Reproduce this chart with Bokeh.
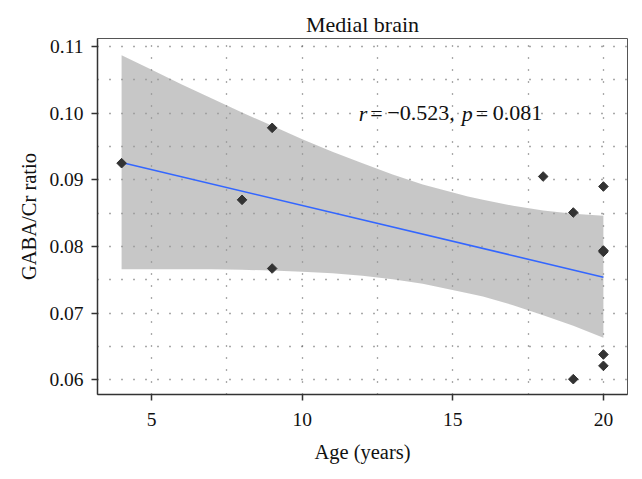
import numpy as np
from bokeh.plotting import figure
from bokeh.models import Range1d, FixedTicker, NumeralTickFormatter, ColumnDataSource
from bokeh.core.properties import value
from bokeh.embed import file_html
from bokeh.resources import INLINE

# data points
age = [4, 8, 9, 9, 18, 19, 19, 20, 20, 20, 20, 20]
ratio = [0.0925, 0.0870, 0.0978, 0.0767, 0.0905, 0.0851, 0.0601,
         0.0890, 0.0792, 0.0794, 0.0638, 0.0621]

# fitted line endpoints
fit_x = [4, 20]
fit_y = [0.0926, 0.0754]

# confidence band
band_x = [4, 5, 6, 7, 8, 9, 10, 11, 12, 13, 14, 15.5, 16, 17, 18, 19, 20]
band_upper = [0.1087, 0.1065, 0.1043, 0.1022, 0.1001, 0.0981, 0.0961, 0.0942,
              0.0925, 0.0908, 0.0893, 0.0875, 0.0870, 0.0861, 0.0854, 0.0849, 0.0846]
band_lower = [0.0766, 0.0766, 0.0766, 0.0766, 0.0765, 0.0764, 0.0762, 0.0760,
              0.0756, 0.0751, 0.0744, 0.0730, 0.0725, 0.0712, 0.0697, 0.0681, 0.0663]

x_ticks = [5, 10, 15, 20]
x_grid = [5, 7.5, 10, 12.5, 15, 17.5, 20]
y_ticks = [0.06, 0.07, 0.08, 0.09, 0.10, 0.11]
y_grid = [0.06, 0.065, 0.07, 0.075, 0.08, 0.085, 0.09, 0.095, 0.10, 0.105, 0.11]

FONT = "Liberation Serif"

p = figure(width=634, height=471, output_backend="svg", toolbar_location=None,
           x_range=Range1d(3.2, 20.8), y_range=Range1d(0.0578, 0.1112),
           title="Medial brain",
           min_border_left=97, min_border_right=7, min_border_top=38, min_border_bottom=77)

p.title.text_font = FONT
p.title.text_font_size = "22px"
p.title.text_font_style = "normal"
p.title.align = "center"
p.title.text_color = "#111111"
p.title.standoff = 4

p.background_fill_color = "white"
p.border_fill_color = "white"
p.outline_line_color = "#555555"
p.outline_line_width = 1

# grids
p.xgrid.ticker = FixedTicker(ticks=x_grid)
p.ygrid.ticker = FixedTicker(ticks=y_grid)
for g in (p.xgrid, p.ygrid):
    g.grid_line_color = "#555555"
    g.grid_line_width = 1.3
    g.grid_line_dash = "1 11"

# axes
p.xaxis.ticker = FixedTicker(ticks=x_ticks)
p.yaxis.ticker = FixedTicker(ticks=y_ticks)
p.yaxis.formatter = NumeralTickFormatter(format="0.00")
for ax in (p.xaxis, p.yaxis):
    ax.axis_line_color = "#333333"
    ax.axis_line_width = 1.5
    ax.major_tick_line_color = "#333333"
    ax.major_tick_line_width = 1.5
    ax.major_tick_out = 6
    ax.major_tick_in = 0
    ax.minor_tick_line_color = None
    ax.major_label_text_font = FONT
    ax.major_label_text_font_size = "19.5px"
    ax.major_label_text_color = "#111111"
    ax.axis_label_text_font = FONT
    ax.axis_label_text_font_size = "20.5px"
    ax.axis_label_text_font_style = "normal"
    ax.axis_label_text_color = "#111111"
p.xaxis.axis_label = "Age (years)"
p.yaxis.axis_label = "GABA/Cr ratio"
p.xaxis.major_label_standoff = 12
p.yaxis.major_label_standoff = 8
p.xaxis.axis_label_standoff = 12
p.yaxis.axis_label_standoff = 6

# band
p.varea(x=band_x, y1=band_lower, y2=band_upper, fill_color="#999999", fill_alpha=0.55)

# fit line
p.line(fit_x, fit_y, line_color="#3366FF", line_width=1.6)

# points
p.scatter(age, ratio, marker="square", angle=np.pi / 4, size=6.8,
          fill_color="#333333", line_color="#333333")

# annotation pieces (left edges relative to x = 15)
ann_italic = ColumnDataSource(dict(x=[15, 15], y=[0.1, 0.1], t=["r", "p"], dx=[-94.0, 9.0]))
ann_norm = ColumnDataSource(dict(x=[15, 15, 15, 15], y=[0.1] * 4,
                                 t=["=", "\u22120.523,", "=", "0.081"],
                                 dx=[-82.5, -65.5, 23.0, 40.0]))
p.text(x="x", y="y", text="t", x_offset="dx", source=ann_italic,
       text_font=value(FONT), text_font_size="22px", text_font_style="italic",
       text_align="left", text_baseline="alphabetic", text_color="#111111")
p.text(x="x", y="y", text="t", x_offset="dx", source=ann_norm,
       text_font=value(FONT), text_font_size="22px", text_font_style="normal",
       text_align="left", text_baseline="alphabetic", text_color="#111111")

open("out.html", "w").write(file_html(p, INLINE))
